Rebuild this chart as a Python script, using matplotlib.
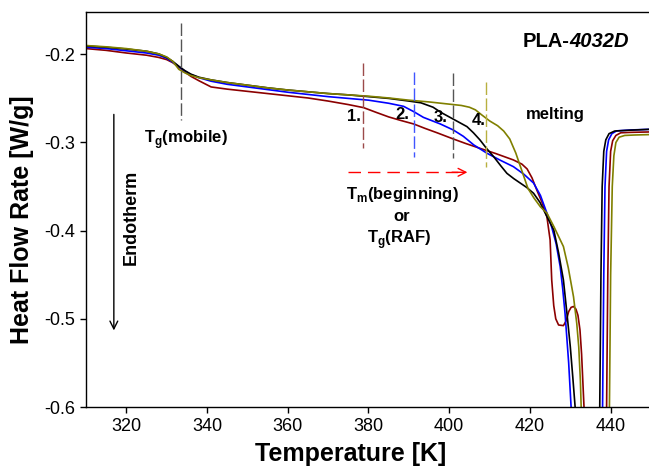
import numpy as np
import matplotlib
matplotlib.use("Agg")
import matplotlib.pyplot as plt

# DSC heating scans of PLA 4032D, four samples
# temperature [K] / heat flow rate [W/g]
T_red = [310, 315, 320, 325, 328, 330, 331.5, 333, 334.5, 336, 338, 341, 345, 350, 355, 360, 365,
         370, 375, 378.8, 382, 385, 388, 391.2, 394, 397, 401, 404, 407.6, 411.5, 415.9, 418,
         419.3, 420.5, 421.7, 423, 424.2, 425, 425.4, 425.9, 426.4, 427.1, 428.3, 429.0, 429.6,
         430.2, 430.8, 431.4, 431.9, 432.4, 432.8, 433.1, 433.4, 436,
         439.0, 439.3, 439.6, 440.0, 440.5, 441.3, 442.5, 445, 450]
q_red = [-0.1935, -0.1955, -0.1985, -0.2010, -0.2035, -0.2060, -0.2095, -0.2145, -0.2200, -0.2250,
         -0.2300, -0.2370, -0.2395, -0.2420, -0.2445, -0.2470, -0.2495, -0.2530, -0.2570, -0.2605,
         -0.2660, -0.2710, -0.2750, -0.2790, -0.2840, -0.2890, -0.2960, -0.3010, -0.3066, -0.3125,
         -0.3198, -0.3245, -0.3300, -0.3400, -0.3539, -0.3680, -0.3840, -0.4105, -0.4560, -0.4850,
         -0.5000, -0.5070, -0.5077, -0.5020, -0.4918, -0.4870, -0.4860, -0.4890, -0.4960, -0.5126,
         -0.5400, -0.5700, -0.6000, -0.7000,
         -0.6000, -0.4500, -0.3500, -0.3100, -0.2980, -0.2920, -0.2890, -0.2885, -0.2880]

T_blue = [310, 315, 320, 325, 328, 330, 331.5, 333, 334.5, 336, 338, 341, 345, 350, 355, 360, 365,
          370, 375, 380, 385, 388.7, 391.2, 393.6, 397.8, 401, 403.5, 406.1, 409.4, 412.6, 415.9,
          418.5, 420.9, 422.6, 424.2, 425.4, 426.5, 427.5, 428.1, 428.7, 429.2, 429.6, 430.2, 434,
          438.0, 438.3, 438.6, 439.0, 439.5, 440.3, 441.5, 445, 450]
q_blue = [-0.1920, -0.1935, -0.1960, -0.1985, -0.2010, -0.2045, -0.2090, -0.2140, -0.2190, -0.2230,
          -0.2265, -0.2305, -0.2340, -0.2370, -0.2400, -0.2430, -0.2455, -0.2480, -0.2500, -0.2520,
          -0.2555, -0.2590, -0.2650, -0.2715, -0.2790, -0.2858, -0.2930, -0.3028, -0.3123, -0.3200,
          -0.3274, -0.3360, -0.3460, -0.3600, -0.3800, -0.3960, -0.4150, -0.4408, -0.4650, -0.4937,
          -0.5250, -0.5500, -0.6000, -0.7000,
          -0.6000, -0.4500, -0.3500, -0.3100, -0.2970, -0.2900, -0.2868, -0.2858, -0.2850]

T_black = [310, 315, 320, 325, 328, 330, 331.5, 333, 334.5, 336, 338, 341, 345, 350, 355, 360, 365,
           370, 375, 380, 385, 390, 393, 396, 398, 400, 402, 404.4, 406, 407.6, 409.3, 411, 412.7,
           414.3, 416, 417.6, 419.2, 420.9, 422.5, 424.2, 425.9, 427.1, 428.3, 429.2, 430, 430.6,
           431.2, 434,
           437.3, 437.6, 437.9, 438.3, 438.8, 439.6, 441, 445, 450]
q_black = [-0.1905, -0.1920, -0.1940, -0.1965, -0.1995, -0.2035, -0.2080, -0.2135, -0.2185, -0.2225,
           -0.2260, -0.2290, -0.2320, -0.2350, -0.2380, -0.2405, -0.2425, -0.2445, -0.2460, -0.2480,
           -0.2500, -0.2530, -0.2550, -0.2600, -0.2660, -0.2710, -0.2760, -0.2820, -0.2890, -0.2970,
           -0.3070, -0.3160, -0.3260, -0.3350, -0.3410, -0.3460, -0.3510, -0.3576, -0.3680, -0.3840,
           -0.3990, -0.4250, -0.4560, -0.4950, -0.5315, -0.5650, -0.6000, -0.7000,
           -0.6000, -0.4500, -0.3500, -0.3100, -0.2970, -0.2900, -0.2870, -0.2860, -0.2850]

T_olive = [310, 315, 320, 325, 328, 330, 331.5, 333, 334.5, 336, 338, 341, 345, 350, 355, 360, 365,
           370, 375, 380, 385, 390, 395, 400, 403, 405, 406.5, 408, 410, 412, 413.5, 415, 416.5,
           418, 419.5, 421, 422.6, 424.2, 426, 428.3, 429.5, 430.8, 431.6, 432.1, 432.5, 432.7, 436,
           439.7, 440.0, 440.4, 440.8, 441.3, 442.1, 443.5, 446, 450]
q_olive = [-0.1900, -0.1915, -0.1935, -0.1965, -0.1995, -0.2030, -0.2080, -0.2170, -0.2210, -0.2240,
           -0.2265, -0.2290, -0.2320, -0.2350, -0.2380, -0.2405, -0.2425, -0.2445, -0.2460, -0.2475,
           -0.2495, -0.2520, -0.2540, -0.2565, -0.2580, -0.2600, -0.2630, -0.2685, -0.2755, -0.2810,
           -0.2870, -0.2960, -0.3120, -0.3320, -0.3520, -0.3630, -0.3730, -0.3800, -0.3960, -0.4180,
           -0.4420, -0.4750, -0.5050, -0.5320, -0.5700, -0.6000, -0.7000,
           -0.6000, -0.4500, -0.3500, -0.3150, -0.3000, -0.2940, -0.2920, -0.2915, -0.2910]

# onset temperatures marked with dashed lines
T_onset = [378.6, 391.3, 400.9, 409.1]
onset_top = [-0.210, -0.2197, -0.2215, -0.231]
onset_bot = [-0.3066, -0.316, -0.318, -0.3275]
onset_col = ["#9c4a4a", "#4055ff", "#555555", "#b8b040"]
onset_lbl = ["1.", "2.", "3.", "4."]
lbl_T = [376.3, 388.5, 397.8, 407.3]
lbl_q = [-0.270, -0.2688, -0.2715, -0.2745]

Tg_mobile = 333.5

plt.rcParams["font.family"] = ["Liberation Sans", "DejaVu Sans"]
plt.rcParams["mathtext.fontset"] = "custom"
plt.rcParams["mathtext.rm"] = "Liberation Sans"
plt.rcParams["mathtext.bf"] = "Liberation Sans:bold"
plt.rcParams["axes.unicode_minus"] = False

fig = plt.figure(figsize=(6.49, 4.68), dpi=100)
ax = fig.add_axes([86/649, 1-407/468, (651-86)/649, (407-12)/468])

ax.plot(T_red, q_red, color="#8b0000", lw=1.2)
ax.plot(T_blue, q_blue, color="#0000ff", lw=1.2)
ax.plot(T_black, q_black, color="black", lw=1.2)
ax.plot(T_olive, q_olive, color="#808000", lw=1.2)

ax.plot([Tg_mobile, Tg_mobile], [-0.164, -0.274], color="#555555", lw=1, dashes=(9, 2.5))
for i in range(4):
    ax.plot([T_onset[i]]*2, [onset_top[i], onset_bot[i]], color=onset_col[i], lw=1, dashes=(9, 2.5))
    ax.text(lbl_T[i], lbl_q[i], onset_lbl[i], ha="center", va="center",
            fontsize=12, fontweight="bold")

# red dashed arrow towards higher temperatures
ax.plot([375, 403.5], [-0.3338, -0.3338], color="red", lw=1, dashes=(9, 5))
ax.annotate("", xy=(405.2, -0.3338), xytext=(400, -0.3338),
            arrowprops=dict(arrowstyle="->", color="red", lw=1, mutation_scale=14))

ax.text(334.8, -0.2961, r"T$_{\mathbf{g}}$(mobile)", ha="center", va="center",
        fontsize=12, fontweight="bold")
ax.text(426.3, -0.2688, "melting", ha="center", va="center", fontsize=12, fontweight="bold")
ax.text(388.3, -0.3595, r"T$_{\mathbf{m}}$(beginning)", ha="center", va="center",
        fontsize=12, fontweight="bold")
ax.text(388.3, -0.384, "or", ha="center", va="center", fontsize=12, fontweight="bold")
ax.text(387.5, -0.4105, r"T$_{\mathbf{g}}$(RAF)", ha="center", va="center",
        fontsize=12, fontweight="bold")

# sample name: "PLA-" upright, grade number in italics
name = ax.text(444.6, -0.186, "4032D", ha="right", va="center",
               fontsize=14.5, fontweight="bold", fontstyle="italic")
ax.annotate("PLA-", xy=(0, 0.5), xycoords=name, ha="right", va="center",
            fontsize=14.5, fontweight="bold")

ax.annotate("", xy=(316.9, -0.5163), xytext=(316.9, -0.265),
            arrowprops=dict(arrowstyle="->", color="black", lw=1, mutation_scale=14))
ax.text(321.3, -0.385, "Endotherm", rotation=90, ha="center", va="center",
        fontsize=13, fontweight="bold")

ax.set_xlim(310, 450)
ax.set_ylim(-0.6, -0.152)
ax.set_xticks([320, 340, 360, 380, 400, 420, 440])
ax.set_yticks([-0.6, -0.5, -0.4, -0.3, -0.2])
ax.set_yticklabels(["-0.6", "-0.5", "-0.4", "-0.3", "-0.2"])
ax.tick_params(direction="out", length=4, width=1, labelsize=13, pad=4)
ax.spines["right"].set_visible(False)
for s in ["left", "bottom", "top"]:
    ax.spines[s].set_linewidth(1)

ax.set_xlabel("Temperature [K]", fontsize=18, fontweight="bold")
ax.set_ylabel("Heat Flow Rate [W/g]", fontsize=18, fontweight="bold")
ax.yaxis.set_label_coords(-0.092, 0.473)
ax.xaxis.set_label_coords(0.469, -0.088)

fig.savefig("out.png", dpi=100)
